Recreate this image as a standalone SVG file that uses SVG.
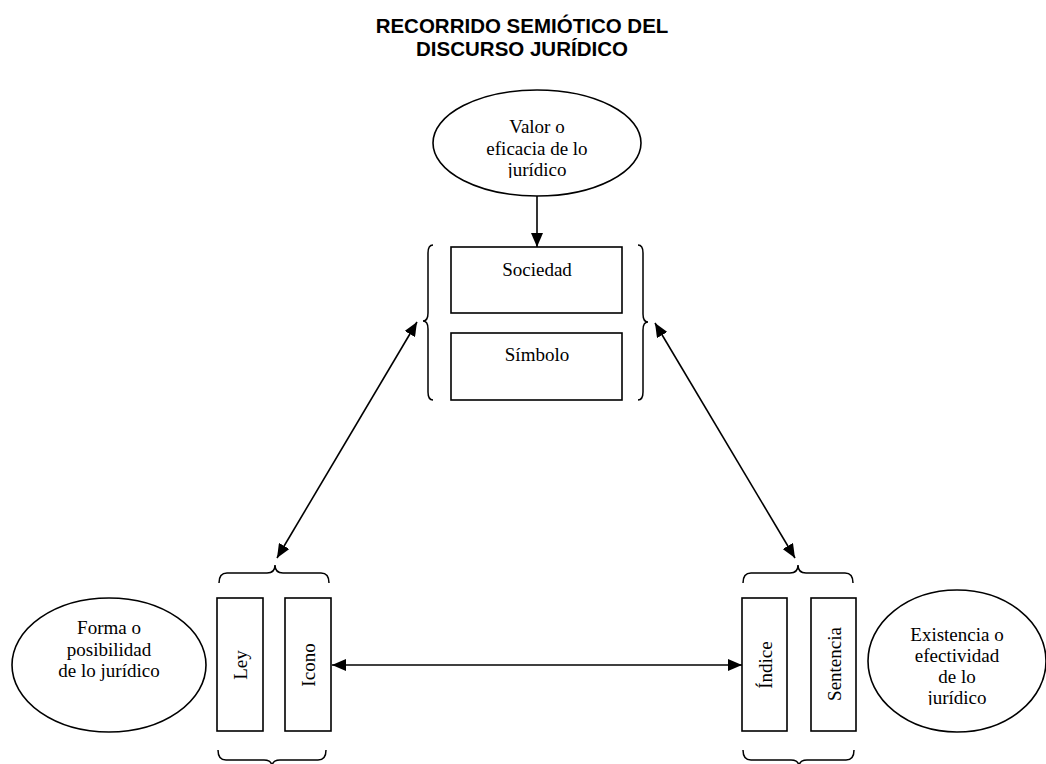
<svg xmlns="http://www.w3.org/2000/svg" width="1046" height="764" viewBox="0 0 1046 764">
<style>
.t{font-family:"Liberation Serif","Times New Roman",serif;font-size:19px;fill:#000;text-anchor:middle}
.title{font-family:"Liberation Sans",Arial,sans-serif;font-size:20.5px;font-weight:bold;fill:#000;text-anchor:middle}
.shape{fill:#fff;stroke:#000;stroke-width:1.6}
.brace{fill:none;stroke:#000;stroke-width:1.5}
.conn{fill:none;stroke:#000;stroke-width:1.6}
.rot{dominant-baseline:central}
</style>
<defs>
<marker id="ah" viewBox="0 0 14 12" refX="14" refY="6" markerWidth="14" markerHeight="12" markerUnits="userSpaceOnUse" orient="auto-start-reverse">
<path d="M0,0 L14,6 L0,12 z" fill="#000"/>
</marker>
<clipPath id="clipTop"><rect x="430" y="80" width="220" height="98"/></clipPath>
<clipPath id="clipRight"><rect x="860" y="580" width="186" height="125"/></clipPath>
</defs>
<rect width="1046" height="764" fill="#fff"/>
<g id="title">
<text class="title" x="522" y="33">RECORRIDO SEMIÓTICO DEL</text>
<text class="title" x="522" y="56">DISCURSO JURÍDICO</text>
</g>
<g id="connectors">
<line class="conn" x1="537" y1="196" x2="537" y2="247" marker-end="url(#ah)"/>
<line class="conn" x1="417" y1="322" x2="277" y2="558" marker-start="url(#ah)" marker-end="url(#ah)"/>
<line class="conn" x1="655" y1="323" x2="795" y2="558" marker-start="url(#ah)" marker-end="url(#ah)"/>
<line class="conn" x1="332" y1="665" x2="742" y2="665" marker-start="url(#ah)" marker-end="url(#ah)"/>
</g>
<g id="node-valor">
<ellipse class="shape" cx="537" cy="143" rx="104" ry="53"/>
<g clip-path="url(#clipTop)">
<text class="t" x="537" y="133">Valor o</text>
<text class="t" x="537" y="155">eficacia de lo</text>
<text class="t" x="537" y="176">jurídico</text>
</g>
</g>
<g id="node-sociedad">
<rect class="shape" x="451" y="247" width="171" height="66"/>
<text class="t" x="537" y="276">Sociedad</text>
</g>
<g id="node-simbolo">
<rect class="shape" x="451" y="333" width="171" height="67"/>
<text class="t" x="537" y="361">Símbolo</text>
</g>
<g id="brace-top">
<path class="brace" d="M433,245 Q428,245 428,253 L428,313 Q428,321 423,321 Q428,321 428,329 L428,392 Q428,400 433,400"/>
<path class="brace" d="M638,245 Q643,245 643,253 L643,314 Q643,322 648,322 Q643,322 643,330 L643,392 Q643,400 638,400"/>
</g>
<g id="node-forma">
<ellipse class="shape" cx="109" cy="665" rx="97" ry="67"/>
<text class="t" x="109" y="634">Forma o</text>
<text class="t" x="109" y="656">posibilidad</text>
<text class="t" x="109" y="677">de lo jurídico</text>
</g>
<g id="node-ley">
<rect class="shape" x="217" y="598" width="46" height="133"/>
<text class="t rot" transform="translate(240,665) rotate(-90)">Ley</text>
</g>
<g id="node-icono">
<rect class="shape" x="285" y="598" width="46" height="133"/>
<text class="t rot" transform="translate(308,665) rotate(-90)">Icono</text>
</g>
<g id="brace-left">
<path class="brace" d="M219,583 Q219,573 227,573 L267,573 Q275,573 275,565 Q275,573 283,573 L321,573 Q329,573 329,583"/>
<path class="brace" d="M218,750 Q218,760 226,760 L264,760 Q272,760 272,767 Q272,760 280,760 L318,760 Q326,760 326,750"/>
</g>
<g id="node-indice">
<rect class="shape" x="742" y="598" width="45" height="133"/>
<text class="t rot" transform="translate(765,665) rotate(-90)">Índice</text>
</g>
<g id="node-sentencia">
<rect class="shape" x="811" y="598" width="45" height="133"/>
<text class="t rot" transform="translate(834,664) rotate(-90)">Sentencia</text>
</g>
<g id="brace-right">
<path class="brace" d="M743,583 Q743,573 751,573 L790,573 Q798,573 798,565 Q798,573 806,573 L845,573 Q853,573 853,583"/>
<path class="brace" d="M743,750 Q743,760 751,760 L791,760 Q799,760 799,767 Q799,760 807,760 L846,760 Q854,760 854,750"/>
</g>
<g id="node-existencia">
<ellipse class="shape" cx="957" cy="661" rx="89" ry="71"/>
<g clip-path="url(#clipRight)">
<text class="t" x="957" y="641">Existencia o</text>
<text class="t" x="957" y="662">efectividad</text>
<text class="t" x="957" y="683">de lo</text>
<text class="t" x="957" y="704">jurídico</text>
</g>
</g>
</svg>
